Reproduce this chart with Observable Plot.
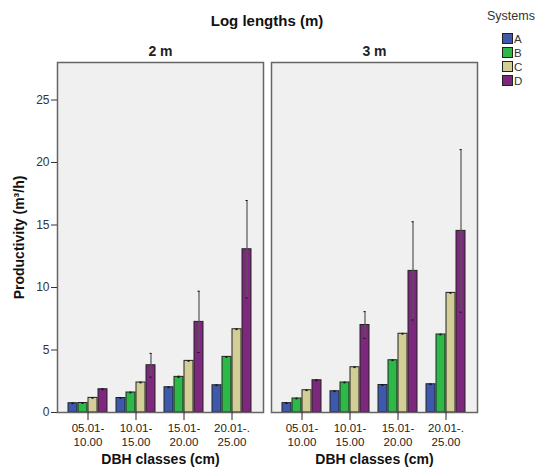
<!DOCTYPE html>
<html><head><meta charset="utf-8">
<script src="https://cdn.jsdelivr.net/npm/d3@7"></script>
<script src="https://cdn.jsdelivr.net/npm/@observablehq/plot@0.6"></script>
<style>
body{margin:0;background:#fff;font-family:"Liberation Sans",Arial,sans-serif;}
#wrap{position:relative;width:539px;height:470px;}
#title{position:absolute;left:56px;width:422px;top:13px;text-align:center;font-weight:bold;font-size:15px;line-height:15px;color:#111;}
#legend{position:absolute;left:487px;top:9px;font-size:12.5px;line-height:14px;color:#333;}
.lg-row{position:absolute;left:15px;width:40px;height:12px;font-size:11.5px;line-height:12px;}
.lg-sw{position:absolute;left:0;top:0;width:9px;height:9px;border:1px solid #222;}
.lg-tx{position:absolute;left:12px;top:0;}
#chart{position:absolute;left:0;top:0;}
</style>
</head><body>
<div id="wrap"><div id="chart"></div><div id="title">Log lengths (m)</div><div id="legend"><div>Systems</div></div></div>
<script>
const lengths = ["2 m", "3 m"];
const classes = ["05.01-\n10.00", "10.01-\n15.00", "15.01-\n20.00", "20.01-.\n25.00"];
const systems = ["A", "B", "C", "D"];
const colors = ["#3E58AC", "#2EB848", "#D3CE97", "#7C287D"];
const yTicks = [0, 5, 10, 15, 20, 25];

// mean productivity (m3/h), log length 2 m
const a2m = [0.74, 1.16, 2.02, 2.18];
const b2m = [0.76, 1.60, 2.85, 4.45];
const c2m = [1.17, 2.40, 4.13, 6.66];
const d2m = [1.86, 3.78, 7.25, 13.06];
// mean productivity (m3/h), log length 3 m
const a3m = [0.75, 1.70, 2.20, 2.26];
const b3m = [1.12, 2.40, 4.18, 6.24];
const c3m = [1.78, 3.62, 6.30, 9.57];
const d3m = [2.58, 7.00, 11.33, 14.53];
// error bar half-widths
const aErr2m = [0.03, 0.03, 0.03, 0.03];
const bErr2m = [0.03, 0.03, 0.05, 0.03];
const cErr2m = [0.03, 0.03, 0.03, 0.03];
const dErr2m = [0.03, 0.95, 2.45, 3.90];
const aErr3m = [0.03, 0.03, 0.03, 0.03];
const bErr3m = [0.03, 0.03, 0.03, 0.03];
const cErr3m = [0.03, 0.03, 0.03, 0.03];
const dErr3m = [0.03, 1.07, 3.93, 6.50];

const means = {"2 m": [a2m, b2m, c2m, d2m], "3 m": [a3m, b3m, c3m, d3m]};
const errs = {"2 m": [aErr2m, bErr2m, cErr2m, dErr2m], "3 m": [aErr3m, bErr3m, cErr3m, dErr3m]};
const rows = [];
for (const ll of lengths) systems.forEach((sys, si) => classes.forEach((cls, ci) => {
  rows.push({ll, sys, cls, v: means[ll][si][ci], e: errs[ll][si][ci]});
}));

const slot = 10;
const bySys = s => rows.filter(r => r.sys === s);
const marks = [
  Plot.frame({fill: "#f0f0f0"}),
  ...systems.map((s, i) => Plot.barY(bySys(s), {fx: "ll", x: "cls", y: "v", fill: "sys", stroke: "#222", strokeWidth: 1, insetLeft: i * slot, insetRight: (3 - i) * slot})),
  ...systems.map((s, i) => Plot.ruleX(bySys(s), {fx: "ll", x: "cls", y1: r => r.v - r.e, y2: r => r.v + r.e, dx: (i - 1.5) * slot, stroke: "#555", strokeWidth: 1.2})),
  ...systems.map((s, i) => Plot.tickY(bySys(s), {fx: "ll", x: "cls", y: r => r.v + r.e, stroke: "#111", strokeWidth: 1, insetLeft: i * slot + 3.5, insetRight: (3 - i) * slot + 3.5})),
  ...systems.map((s, i) => Plot.tickY(bySys(s), {fx: "ll", x: "cls", y: r => r.v - r.e, stroke: "#111", strokeWidth: 1, insetLeft: i * slot + 3.5, insetRight: (3 - i) * slot + 3.5})),
  Plot.frame({stroke: "#666", strokeWidth: 1.5}),
  Plot.axisY(yTicks, {tickSize: 6, tickPadding: 2, fontSize: 12, color: "#333", label: null}),
  Plot.axisX({tickSize: 8, tickPadding: 2, fontSize: 11.5, lineHeight: 1.17, color: "#222", label: null}),
  Plot.axisFx({anchor: "top", tickSize: 0, tickPadding: 7, fontSize: 14, fontWeight: "bold", label: null}),
  Plot.text(["2 m"], {fx: d => d, frameAnchor: "left", textAnchor: "middle", dx: -38, rotate: -90, text: () => "Productivity (m³/h)", fontWeight: "bold", fontSize: 14, fill: "#111"}),
  Plot.text(lengths, {fx: d => d, frameAnchor: "bottom", dy: 51.5, text: () => "DBH classes (cm)", fontWeight: "bold", fontSize: 14, fill: "#111"})
];

const chart = Plot.plot({
  width: 539, height: 470,
  marginLeft: 56, marginRight: 61, marginTop: 62, marginBottom: 58,
  fx: {domain: lengths, paddingInner: 0.0372, paddingOuter: 0, label: null},
  x: {domain: classes, paddingInner: 0.179, paddingOuter: 0.215, label: null},
  y: {domain: [0, 28], label: null},
  color: {domain: systems, range: colors},
  style: {fontFamily: "Liberation Sans, Arial, sans-serif", background: "transparent", color: "#222"},
  marks
});
document.getElementById("chart").appendChild(chart);

const legend = document.getElementById("legend");
systems.forEach((s, i) => {
  const row = document.createElement("div");
  row.className = "lg-row";
  row.style.top = (24 + i * 14) + "px";
  row.innerHTML = `<div class="lg-sw" style="background:${colors[i]}"></div><div class="lg-tx">${s}</div>`;
  legend.appendChild(row);
});
</script>
</body></html>
